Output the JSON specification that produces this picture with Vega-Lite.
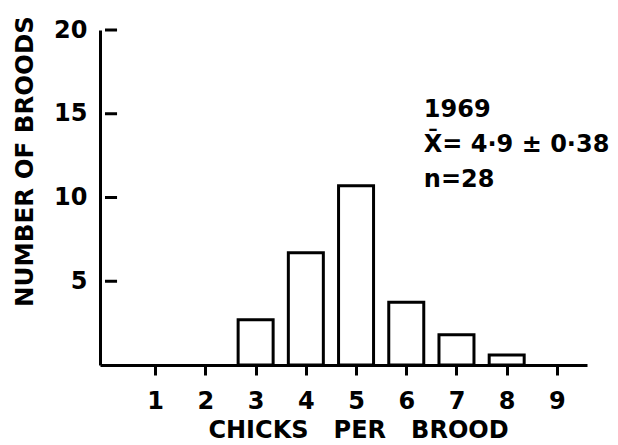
{
  "$schema": "https://vega.github.io/schema/vega-lite/v6.json",
  "width": 487,
  "height": 335,
  "autosize": {"type": "none"},
  "padding": {"left": 100, "top": 30, "right": 31, "bottom": 80},
  "background": "white",
  "config": {
    "view": {"stroke": null},
    "font": "DejaVu Sans",
    "axis": {
      "domainColor": "black",
      "domainWidth": 3,
      "tickColor": "black",
      "tickWidth": 3,
      "labelColor": "black",
      "labelFontWeight": "bold",
      "titleColor": "black",
      "titleFontWeight": "bold",
      "grid": false,
      "labelFlush": false,
      "labelOverlap": false
    }
  },
  "layer": [
    {
      "data": {
        "values": [
          {"chicks": 3, "broods": 2.7},
          {"chicks": 4, "broods": 6.7},
          {"chicks": 5, "broods": 10.7},
          {"chicks": 6, "broods": 3.75},
          {"chicks": 7, "broods": 1.8},
          {"chicks": 8, "broods": 0.6}
        ]
      },
      "mark": {"type": "bar", "width": 35, "fill": "white", "stroke": "black", "strokeWidth": 3},
      "encoding": {
        "x": {
          "field": "chicks",
          "type": "quantitative",
          "scale": {"domain": [0, 9.5], "nice": false},
          "axis": {
            "values": [1, 2, 3, 4, 5, 6, 7, 8, 9],
            "tickSize": 10,
            "labelFontSize": 24,
            "labelPadding": 14,
            "title": "CHICKS\u00a0\u00a0\u00a0PER\u00a0\u00a0\u00a0BROOD",
            "titleFontSize": 24,
            "titlePadding": 5,
            "titleX": 258
          }
        },
        "y": {
          "field": "broods",
          "type": "quantitative",
          "scale": {"domain": [0, 20], "nice": false},
          "axis": {
            "values": [5, 10, 15, 20],
            "ticks": false,
            "labelFontSize": 24,
            "labelPadding": 13,
            "title": "NUMBER OF BROODS",
            "titleFontSize": 24.5,
            "titleX": -63,
            "titleY": 131
          }
        }
      }
    },
    {
      "data": {"values": [{"mark": 5}, {"mark": 10}, {"mark": 15}, {"mark": 20}]},
      "mark": {"type": "rule", "color": "black", "strokeWidth": 3},
      "encoding": {
        "y": {"field": "mark", "type": "quantitative"},
        "x": {"datum": 0, "type": "quantitative"},
        "x2": {"datum": 0.24}
      }
    },
    {
      "data": {"values": [{}]},
      "mark": {
        "type": "text",
        "text": ["1969", "X̄= 4·9 ± 0·38", "n=28"],
        "align": "left",
        "baseline": "alphabetic",
        "lineHeight": 35,
        "fontSize": 24,
        "fontWeight": "bold",
        "color": "black"
      },
      "encoding": {
        "x": {"datum": 6.35, "type": "quantitative"},
        "y": {"datum": 14.8, "type": "quantitative"}
      }
    }
  ]
}
